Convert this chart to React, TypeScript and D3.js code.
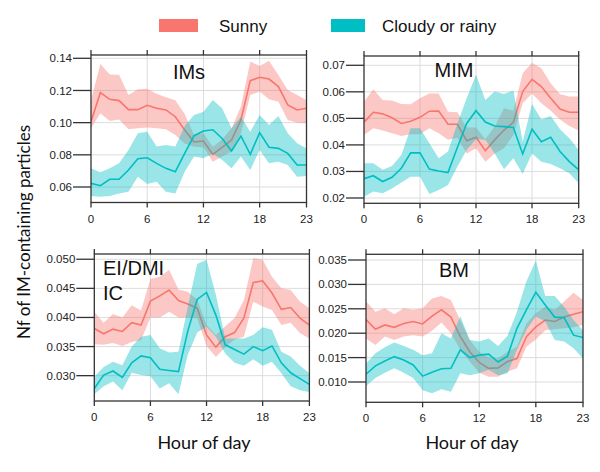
import React from "react";
import * as d3 from "d3";

const hours = d3.range(24);
const xTicks = [0, 6, 12, 18, 23];
const legendLabels = ["Sunny", "Cloudy or rainy"];
const colors = ["#F8766D", "#00BFC4"];

// IMs
const imsSunny = [0.1006,0.1187,0.1145,0.1137,0.1081,0.1081,0.1108,0.1089,0.1079,0.1037,0.0954,0.088,0.0886,0.0803,0.0847,0.0892,0.1017,0.1261,0.1282,0.1271,0.1224,0.111,0.1079,0.1089];
const imsSunnyHi = [0.114,0.1365,0.130,0.1297,0.1172,0.1207,0.121,0.118,0.1158,0.114,0.1054,0.0923,0.0934,0.085,0.0896,0.0965,0.11,0.138,0.1352,0.1385,0.1296,0.1203,0.1172,0.114];
const imsSunnyLo = [0.0965,0.1058,0.101,0.102,0.0959,0.0965,0.097,0.0965,0.0959,0.0923,0.0871,0.085,0.0847,0.0757,0.0789,0.082,0.0934,0.1172,0.1193,0.1145,0.113,0.1017,0.10,0.0996];
const imsCloudy = [0.0623,0.0608,0.0648,0.0648,0.0706,0.0776,0.0782,0.0747,0.0716,0.0695,0.0809,0.0919,0.0948,0.0956,0.0902,0.0824,0.0917,0.0803,0.0938,0.0847,0.084,0.0809,0.0737,0.0737];
const imsCloudyHi = [0.0716,0.0691,0.0716,0.0747,0.083,0.0934,0.0944,0.0851,0.0861,0.0851,0.0979,0.1048,0.1068,0.1141,0.1089,0.0965,0.1037,0.0944,0.1048,0.0985,0.1042,0.0934,0.0872,0.084];
const imsCloudyLo = [0.0544,0.054,0.0544,0.056,0.0571,0.0664,0.0619,0.0633,0.0571,0.056,0.0695,0.0789,0.0778,0.0809,0.0768,0.0716,0.0789,0.0706,0.083,0.0747,0.0757,0.0737,0.0664,0.0668];

// MIM
const mimSunny = [0.0486,0.0523,0.0517,0.0502,0.0481,0.0489,0.0504,0.0527,0.0528,0.0478,0.0478,0.0416,0.0429,0.0378,0.0419,0.0456,0.0485,0.0601,0.0647,0.062,0.0576,0.0535,0.0523,0.0523];
const mimSunnyHi = [0.0563,0.061,0.0569,0.0567,0.0554,0.0553,0.0576,0.0594,0.0594,0.0525,0.0523,0.0466,0.0466,0.0421,0.0469,0.0538,0.0529,0.067,0.071,0.0689,0.0632,0.0591,0.0582,0.0582];
const mimSunnyLo = [0.0437,0.0463,0.0454,0.0444,0.0434,0.044,0.044,0.0463,0.0444,0.0419,0.0427,0.0368,0.0387,0.0337,0.0368,0.0387,0.0437,0.0557,0.0594,0.0557,0.0529,0.0496,0.0471,0.0454];
const mimCloudy = [0.0273,0.0284,0.0262,0.0278,0.0312,0.037,0.037,0.0309,0.0302,0.0296,0.039,0.0481,0.0529,0.0486,0.0471,0.0469,0.0466,0.0366,0.0459,0.0412,0.0429,0.0375,0.0337,0.0306];
const mimCloudyHi = [0.0331,0.0331,0.0306,0.0321,0.0362,0.0463,0.0463,0.0406,0.035,0.0375,0.0481,0.0576,0.0664,0.0569,0.0601,0.0592,0.0605,0.0412,0.0554,0.0496,0.0509,0.0459,0.0425,0.0381];
const mimCloudyLo = [0.0205,0.0224,0.0218,0.0236,0.0258,0.028,0.028,0.0215,0.023,0.0249,0.0318,0.0381,0.0421,0.0419,0.0368,0.0308,0.035,0.029,0.0368,0.0337,0.0328,0.0312,0.0293,0.0256];

// EI/DMI IC
const eiSunny = [0.0381,0.0372,0.038,0.0376,0.0391,0.0387,0.0428,0.0437,0.0447,0.0429,0.0423,0.0416,0.037,0.0349,0.0367,0.0374,0.0399,0.046,0.0463,0.0442,0.0414,0.0417,0.0399,0.0387];
const eiSunnyHi = [0.041,0.0391,0.0406,0.04,0.0421,0.0412,0.0466,0.047,0.0482,0.0448,0.0444,0.0431,0.0387,0.037,0.0385,0.0399,0.043,0.0502,0.0499,0.047,0.045,0.0447,0.0427,0.0416];
const eiSunnyLo = [0.0354,0.0353,0.0356,0.0351,0.0358,0.0361,0.04,0.04,0.041,0.04,0.04,0.0399,0.0351,0.0332,0.0349,0.0362,0.0367,0.0427,0.0419,0.0413,0.0387,0.0391,0.0373,0.0364];
const eiCloudy = [0.0278,0.0301,0.0308,0.0297,0.0322,0.0334,0.0331,0.0311,0.0309,0.0307,0.0377,0.0431,0.0443,0.0404,0.0353,0.0345,0.0337,0.035,0.0343,0.0351,0.0322,0.0305,0.0295,0.0285];
const eiCloudyHi = [0.0298,0.0315,0.0324,0.0318,0.035,0.0367,0.037,0.0347,0.034,0.0341,0.0419,0.0492,0.0499,0.0439,0.0364,0.0364,0.0364,0.037,0.0383,0.0379,0.0341,0.0333,0.0317,0.0304];
const eiCloudyLo = [0.0268,0.0282,0.029,0.0275,0.0305,0.0301,0.0299,0.0278,0.0287,0.0268,0.0336,0.0374,0.0384,0.0367,0.0338,0.0322,0.0317,0.0328,0.0317,0.0324,0.0304,0.0282,0.0275,0.0272];

// BM
const bmSunny = [0.0228,0.0208,0.0217,0.0212,0.022,0.0224,0.0219,0.0235,0.0248,0.0233,0.0193,0.0162,0.014,0.0128,0.0129,0.0142,0.0148,0.0193,0.0213,0.0227,0.0224,0.0233,0.0239,0.0244];
const bmSunnyHi = [0.0265,0.0244,0.0251,0.0239,0.0251,0.0248,0.0251,0.0271,0.0276,0.0268,0.0226,0.0186,0.0162,0.015,0.0148,0.0162,0.0172,0.022,0.0241,0.0254,0.0248,0.0265,0.0283,0.0268];
const bmSunnyLo = [0.0189,0.0176,0.0193,0.0186,0.0193,0.0196,0.0193,0.0205,0.0222,0.02,0.0166,0.0142,0.0119,0.0111,0.0111,0.0121,0.0128,0.0172,0.0187,0.0206,0.0208,0.021,0.0212,0.0217];
const bmCloudy = [0.0116,0.0133,0.0143,0.0152,0.0145,0.0135,0.0112,0.012,0.0127,0.0128,0.0166,0.015,0.0155,0.0157,0.0141,0.0153,0.021,0.0248,0.0284,0.0258,0.0233,0.0232,0.0196,0.0191];
const bmCloudyHi = [0.0138,0.0159,0.0171,0.0181,0.0174,0.0166,0.0155,0.0159,0.02,0.0189,0.0235,0.0186,0.0183,0.0189,0.0174,0.0195,0.0244,0.0306,0.0349,0.0276,0.0276,0.0254,0.0227,0.0206];
const bmCloudyLo = [0.0092,0.0108,0.0119,0.0128,0.0119,0.0108,0.0083,0.0077,0.0085,0.008,0.0118,0.0114,0.0118,0.0125,0.0114,0.0118,0.0166,0.0207,0.0234,0.0224,0.0186,0.0183,0.0169,0.0148];

const imsTicks = [0.06, 0.08, 0.10, 0.12, 0.14];
const mimTicks = [0.02, 0.03, 0.04, 0.05, 0.06, 0.07];
const eiTicks = [0.030, 0.035, 0.040, 0.045, 0.050];
const bmTicks = [0.010, 0.015, 0.020, 0.025, 0.030, 0.035];

type Panel = {
  id: string;
  title: string[];
  left: number; right: number; top: number; bottom: number;
  yDomain: [number, number];
  ticks: number[];
  fmt: string;
  titleX: number; titleY: number; titleAnchor: string;
  showXLabels: boolean;
  series: { mean: number[]; hi: number[]; lo: number[] }[];
};

const panels: Panel[] = [
  {
    id: "p1", title: ["IMs"], left: 91, right: 306.5, top: 55, bottom: 202.5,
    yDomain: [0.05037, 0.14205], ticks: imsTicks, fmt: ".2f",
    titleX: 189, titleY: 79, titleAnchor: "middle", showXLabels: true,
    series: [
      { mean: imsSunny, hi: imsSunnyHi, lo: imsSunnyLo },
      { mean: imsCloudy, hi: imsCloudyHi, lo: imsCloudyLo },
    ],
  },
  {
    id: "p2", title: ["MIM"], left: 364, right: 578.7, top: 56, bottom: 203.3,
    yDomain: [0.018, 0.0735], ticks: mimTicks, fmt: ".2f",
    titleX: 454, titleY: 77, titleAnchor: "middle", showXLabels: true,
    series: [
      { mean: mimSunny, hi: mimSunnyHi, lo: mimSunnyLo },
      { mean: mimCloudy, hi: mimCloudyHi, lo: mimCloudyLo },
    ],
  },
  {
    id: "p3", title: ["EI/DMI", "IC"], left: 94.3, right: 309.4, top: 254, bottom: 401,
    yDomain: [0.02565, 0.0509], ticks: eiTicks, fmt: ".3f",
    titleX: 103, titleY: 275, titleAnchor: "start", showXLabels: true,
    series: [
      { mean: eiSunny, hi: eiSunnyHi, lo: eiSunnyLo },
      { mean: eiCloudy, hi: eiCloudyHi, lo: eiCloudyLo },
    ],
  },
  {
    id: "p4", title: ["BM"], left: 366, right: 583, top: 254.3, bottom: 402.3,
    yDomain: [0.00584, 0.03617], ticks: bmTicks, fmt: ".3f",
    titleX: 454, titleY: 277, titleAnchor: "middle", showXLabels: true,
    series: [
      { mean: bmSunny, hi: bmSunnyHi, lo: bmSunnyLo },
      { mean: bmCloudy, hi: bmCloudyHi, lo: bmCloudyLo },
    ],
  },
];

const tickFont = "'Liberation Sans', Arial, sans-serif";
const axisColor = "#333";

function PanelView({ p }: { p: Panel }) {
  const x = d3.scaleLinear().domain([0, 23]).range([p.left, p.right]);
  const y = d3.scaleLinear().domain(p.yDomain).range([p.bottom, p.top]);
  const f = d3.format(p.fmt);
  const area = (s: { hi: number[]; lo: number[] }) =>
    d3.area<number>().x((h) => x(h)).y0((h) => y(s.lo[h])).y1((h) => y(s.hi[h]))(hours) || "";
  const line = (s: { mean: number[] }) =>
    d3.line<number>().x((h) => x(h)).y((h) => y(s.mean[h]))(hours) || "";
  return (
    <g>
      <defs>
        <clipPath id={"clip-" + p.id}>
          <rect x={p.left} y={p.top} width={p.right - p.left} height={p.bottom - p.top} />
        </clipPath>
      </defs>
      {/* grid */}
      {p.ticks.map((t) => (
        <line key={"gy" + t} x1={p.left} x2={p.right} y1={y(t)} y2={y(t)} stroke="#dcdcdc" strokeWidth={1} />
      ))}
      {xTicks.slice(1, 4).map((t) => (
        <line key={"gx" + t} x1={x(t)} x2={x(t)} y1={p.top} y2={p.bottom} stroke="#dcdcdc" strokeWidth={1} />
      ))}
      <g clipPath={`url(#clip-${p.id})`}>
        {p.series.map((s, i) => (
          <g key={i}>
            <path d={area(s)} fill={colors[i]} fillOpacity={0.4} stroke="none" />
            <path d={line(s)} fill="none" stroke={colors[i]} strokeWidth={1.6} />
          </g>
        ))}
      </g>
      {/* frame */}
      <rect x={p.left} y={p.top} width={p.right - p.left} height={p.bottom - p.top} fill="none" stroke={axisColor} strokeWidth={1.3} />
      {/* y ticks */}
      {p.ticks.map((t) => (
        <g key={"ty" + t}>
          <line x1={p.left - 18} x2={p.left} y1={y(t)} y2={y(t)} stroke={axisColor} strokeWidth={1.3} />
          <text x={p.left - 19} y={y(t)} dy="0.35em" textAnchor="end" fontSize={11.5} fontFamily={tickFont} fill="#222">
            {f(t)}
          </text>
        </g>
      ))}
      {/* x ticks */}
      {xTicks.map((t) => (
        <g key={"tx" + t}>
          <line x1={x(t)} x2={x(t)} y1={p.bottom} y2={p.bottom + 5} stroke={axisColor} strokeWidth={1.3} />
          <line x1={x(t)} x2={x(t)} y1={p.top} y2={p.top - 5} stroke={axisColor} strokeWidth={1.3} />
          {p.showXLabels && (
            <text x={x(t)} y={p.bottom + 20} textAnchor="middle" fontSize={11.5} fontFamily={tickFont} fill="#222">
              {t}
            </text>
          )}
        </g>
      ))}
      {p.title.map((line, i) => (
        <text key={i} x={p.titleX} y={p.titleY + i * 25} textAnchor={p.titleAnchor} fontSize={20} fontFamily={tickFont} fill="#111">
          {line}
        </text>
      ))}
    </g>
  );
}

export default function App() {
  return (
    <svg width={600} height={472} style={{ display: "block", position: "absolute", left: 0, top: 0, background: "#fff" }}>
      <rect x={0} y={0} width={600} height={472} fill="#fff" />
      {/* legend */}
      {legendLabels.map((lab, i) => {
        const rx = [159, 331][i];
        const tx = [219, 382][i];
        return (
          <g key={lab}>
            <rect x={rx} y={19} width={[39, 34][i]} height={13} fill={colors[i]} />
            <text x={tx} y={31.5} fontSize={17} fontFamily={tickFont} fill="#111">{lab}</text>
          </g>
        );
      })}
      {panels.map((p) => (
        <PanelView key={p.id} p={p} />
      ))}
      <text transform="translate(30,232) rotate(-90)" textAnchor="middle" fontSize={17} fontFamily="Lato, 'Open Sans', sans-serif" fill="#111">
        Nf of IM-containing particles
      </text>
      <text x={204} y={449} textAnchor="middle" fontSize={18} fontFamily="Lato, 'Open Sans', sans-serif" fill="#111">Hour of day</text>
      <text x={472} y={449} textAnchor="middle" fontSize={18} fontFamily="Lato, 'Open Sans', sans-serif" fill="#111">Hour of day</text>
    </svg>
  );
}
